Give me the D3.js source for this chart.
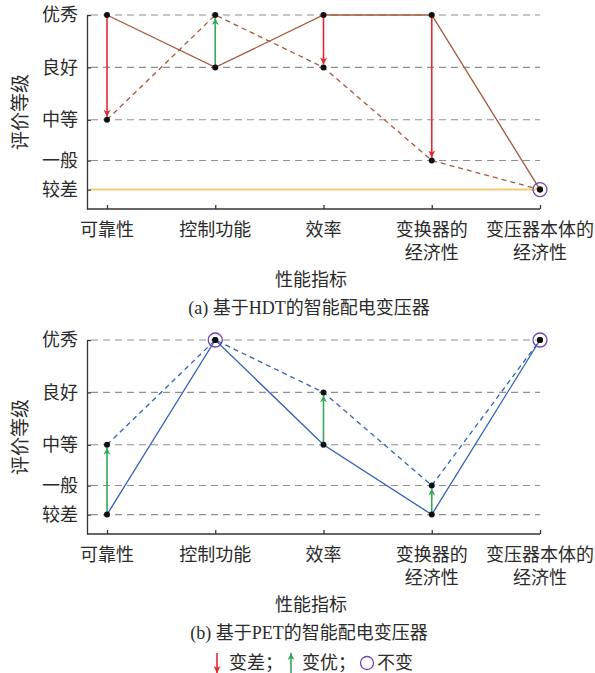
<!DOCTYPE html>
<html>
<head>
<meta charset="utf-8">
<script src="https://cdn.jsdelivr.net/npm/d3@7"></script>
<style>
  body { margin: 0; background: #fff; }
  text { font-family: "Liberation Serif", "Noto Sans CJK SC", serif; fill: #2b2b2b; }
</style>
</head>
<body>
<div id="chart"></div>
<script>
// rating levels, bottom to top, and where each sits on the vertical scale
const levels = ["较差", "一般", "中等", "良好", "优秀"];
const levelValues = [0.1, 0.25, 0.46, 0.73, 1.0];

// performance indicators (multi-line labels)
const categories = [["可靠性"], ["控制功能"], ["效率"], ["变换器的", "经济性"], ["变压器本体的", "经济性"]];

// (a) HDT based transformer: solid = before, dashed = after
const hdtBefore = ["优秀", "良好", "优秀", "优秀", "较差"];
const hdtAfter  = ["中等", "优秀", "良好", "一般", "较差"];

// (b) PET based transformer
const petBefore = ["较差", "优秀", "中等", "较差", "优秀"];
const petAfter  = ["中等", "优秀", "良好", "一般", "优秀"];

const colors = {
  brown: "#a2593b",
  blue: "#2f62b8",
  worse: "#e8262c",
  better: "#33a85a",
  same: "#7148a8",
  grid: "#8f8f8f",
  axis: "#333",
  baseline: "#f6c978"
};

const W = 595, H = 673;
const axisLeft = 87, axisRight = 540;

const svg = d3.select("#chart").append("svg")
  .attr("width", W)
  .attr("height", H);

const defs = svg.append("defs");
function marker(id, color) {
  defs.append("marker")
    .attr("id", id)
    .attr("viewBox", "0 0 10 10")
    .attr("refX", 10).attr("refY", 5)
    .attr("markerWidth", 7).attr("markerHeight", 7)
    .attr("markerUnits", "userSpaceOnUse")
    .attr("orient", "auto")
    .append("path")
    .attr("d", "M0,0 L10,5 L0,10 L3,5 Z")
    .attr("fill", color);
}
marker("head-worse", colors.worse);
marker("head-better", colors.better);

const levelValue = name => levelValues[levels.indexOf(name)];

function drawPanel(cfg) {
  const g = svg.append("g");
  const y = d3.scaleLinear().domain([0, 1]).range([cfg.axisY, cfg.top]);
  const x = d3.scalePoint().domain(d3.range(categories.length)).range([107, axisRight]);

  // grid lines
  levels.forEach((lv, i) => {
    const isBase = lv === cfg.baseline;
    g.append("line")
      .attr("x1", axisLeft + 4).attr("x2", axisRight)
      .attr("y1", y(levelValues[i])).attr("y2", y(levelValues[i]))
      .attr("stroke", isBase ? colors.baseline : colors.grid)
      .attr("stroke-width", isBase ? 2 : 1.2)
      .attr("stroke-dasharray", isBase ? null : "7,5");
  });

  // y axis
  const yAxis = g.append("g")
    .attr("transform", `translate(${axisLeft},0)`)
    .call(d3.axisLeft(y).tickValues(levelValues).tickSize(-4).tickSizeOuter(0).tickPadding(9)
      .tickFormat(v => levels[levelValues.indexOf(v)]));
  yAxis.attr("font-family", null).attr("font-size", null);
  yAxis.selectAll("path, line").attr("stroke", colors.axis).attr("stroke-width", 1.3);
  yAxis.selectAll("text").attr("font-size", 18).attr("fill", "#2b2b2b");

  // x axis
  const xAxis = g.append("g")
    .attr("transform", `translate(0,${cfg.axisY})`)
    .call(d3.axisBottom(x).tickSize(-4).tickSizeOuter(0).tickFormat(""));
  xAxis.select(".domain").remove();
  xAxis.selectAll("line").attr("stroke", colors.axis).attr("stroke-width", 1.3);
  g.append("line")
    .attr("x1", axisLeft).attr("x2", axisRight)
    .attr("y1", cfg.axisY).attr("y2", cfg.axisY)
    .attr("stroke", colors.axis).attr("stroke-width", 1.3);

  // category labels
  categories.forEach((lines, i) => {
    const t = g.append("text")
      .attr("text-anchor", "middle")
      .attr("font-size", 18);
    lines.forEach((s, k) => {
      t.append("tspan")
        .attr("x", x(i))
        .attr("y", cfg.axisY + 27 + k * 23)
        .text(s);
    });
  });

  // axis titles and caption
  g.append("text")
    .attr("transform", `translate(27,${(cfg.top + cfg.axisY) / 2}) rotate(-90)`)
    .attr("text-anchor", "middle")
    .attr("font-size", 19)
    .text("评价等级");

  g.append("text")
    .attr("x", 311).attr("y", cfg.axisY + 77)
    .attr("text-anchor", "middle")
    .attr("font-size", 18)
    .text("性能指标");

  g.append("text")
    .attr("x", 309).attr("y", cfg.axisY + 105)
    .attr("text-anchor", "middle")
    .attr("font-size", 18)
    .text(cfg.caption);

  // series lines
  const line = d3.line()
    .x((d, i) => x(i))
    .y(d => y(levelValue(d)));

  g.append("path")
    .datum(cfg.after)
    .attr("d", line)
    .attr("fill", "none")
    .attr("stroke", cfg.color)
    .attr("stroke-width", 1.3)
    .attr("stroke-dasharray", "5,4");

  g.append("path")
    .datum(cfg.before)
    .attr("d", line)
    .attr("fill", "none")
    .attr("stroke", cfg.color)
    .attr("stroke-width", 1.3);

  // change arrows and unchanged circles
  cfg.before.forEach((b, i) => {
    const vb = levelValue(b), va = levelValue(cfg.after[i]);
    if (va === vb) {
      g.append("circle")
        .attr("cx", x(i)).attr("cy", y(va)).attr("r", 7)
        .attr("fill", "none")
        .attr("stroke", colors.same)
        .attr("stroke-width", 1.3);
      return;
    }
    const up = va > vb;
    const y1 = y(vb), y2 = y(va) + (up ? 3 : -3);
    g.append("line")
      .attr("x1", x(i)).attr("x2", x(i))
      .attr("y1", y1).attr("y2", y2)
      .attr("stroke", up ? colors.better : colors.worse)
      .attr("stroke-width", 1.6)
      .attr("marker-end", up ? "url(#head-better)" : "url(#head-worse)");
  });

  // points
  const pts = cfg.before.map((d, i) => [i, d]).concat(cfg.after.map((d, i) => [i, d]));
  g.selectAll(".pt")
    .data(pts)
    .enter().append("circle")
    .attr("cx", d => x(d[0]))
    .attr("cy", d => y(levelValue(d[1])))
    .attr("r", 3)
    .attr("fill", "#111");
}

drawPanel({
  top: 15, axisY: 209,
  before: hdtBefore, after: hdtAfter,
  color: colors.brown,
  baseline: "较差",
  caption: "(a) 基于HDT的智能配电变压器"
});

drawPanel({
  top: 340, axisY: 534,
  before: petBefore, after: petAfter,
  color: colors.blue,
  baseline: null,
  caption: "(b) 基于PET的智能配电变压器"
});

// legend
const legend = svg.append("g").attr("transform", "translate(0,663)");
legend.append("line")
  .attr("x1", 217).attr("x2", 217).attr("y1", -10).attr("y2", 10)
  .attr("stroke", colors.worse).attr("stroke-width", 1.6)
  .attr("marker-end", "url(#head-worse)");
legend.append("text").attr("x", 229).attr("y", 6).attr("font-size", 18).text("变差；");
legend.append("line")
  .attr("x1", 291).attr("x2", 291).attr("y1", 10).attr("y2", -10)
  .attr("stroke", colors.better).attr("stroke-width", 1.6)
  .attr("marker-end", "url(#head-better)");
legend.append("text").attr("x", 302).attr("y", 6).attr("font-size", 18).text("变优；");
legend.append("circle")
  .attr("cx", 367).attr("cy", 0).attr("r", 6.5)
  .attr("fill", "none").attr("stroke", colors.same).attr("stroke-width", 1.3);
legend.append("text").attr("x", 377).attr("y", 6).attr("font-size", 18).text("不变");
</script>
</body>
</html>
